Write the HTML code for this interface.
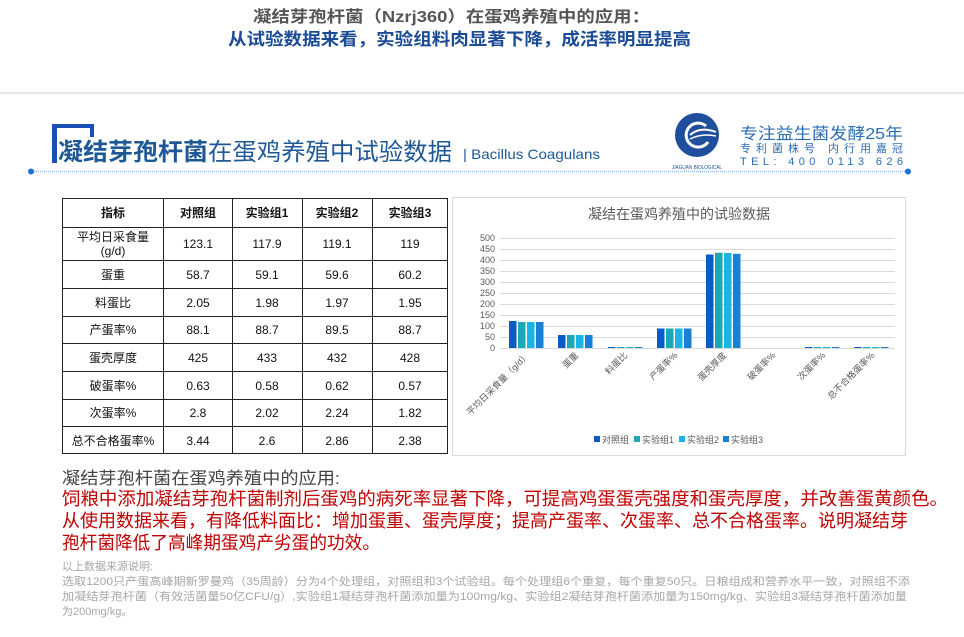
<!DOCTYPE html>
<html><head><meta charset="utf-8"><style>
html,body{margin:0;padding:0;background:#fff;}
svg{display:block;font-family:"Liberation Sans","Noto Sans CJK SC",sans-serif;}
</style></head><body>
<svg width="964" height="637" viewBox="0 0 964 637" xmlns="http://www.w3.org/2000/svg">
<rect width="964" height="637" fill="#fff"/>
<!-- top titles -->
<text x="253" y="22" font-size="16" font-weight="bold" fill="#555" textLength="397" lengthAdjust="spacingAndGlyphs">凝结芽孢杆菌（Nzrj360）在蛋鸡养殖中的应用：</text>
<text x="228" y="45" font-size="17" font-weight="bold" fill="#1b4b96" textLength="463" lengthAdjust="spacingAndGlyphs">从试验数据来看，实验组料肉显著下降，成活率明显提高</text>
<line x1="0" y1="93" x2="964" y2="93" stroke="#ddd" stroke-width="1.5"/>

<!-- section header -->
<path d="M52 124 H94 V137 H90 V128 H57 V163 H52 Z" fill="#1a4fb5"/>
<text x="58" y="160" font-size="24" font-weight="bold" fill="#1f5896" textLength="150" lengthAdjust="spacingAndGlyphs">凝结芽孢杆菌</text>
<text x="208" y="160" font-size="24" fill="#1f5896" textLength="244" lengthAdjust="spacingAndGlyphs">在蛋鸡养殖中试验数据</text>
<text x="463" y="159" font-size="14" fill="#1f5896" textLength="137" lengthAdjust="spacingAndGlyphs">| Bacillus Coagulans</text>
<line x1="32" y1="171.5" x2="908" y2="171.5" stroke="#8fbde8" stroke-width="1.5" stroke-dasharray="1 1"/>
<circle cx="31" cy="171.5" r="3" fill="#1a73d0"/>
<circle cx="908" cy="171.5" r="3" fill="#1a73d0"/>

<!-- logo -->
<circle cx="697" cy="135" r="22" fill="#1f4e9c"/>
<path d="M706 126 A12 12 0 1 0 708 142" fill="none" stroke="#fff" stroke-width="3"/>
<path d="M690 135 Q700 126 716 132" fill="none" stroke="#fff" stroke-width="2"/>
<path d="M690 139 Q702 133 716 136" fill="none" stroke="#fff" stroke-width="1.5"/>
<text x="672" y="169" font-size="5" fill="#1f4e9c" textLength="50" lengthAdjust="spacingAndGlyphs">JIAGUAN BIOLOGICAL</text>
<text x="740" y="139" font-size="16" fill="#2b6db4" textLength="163" lengthAdjust="spacingAndGlyphs">专注益生菌发酵25年</text>
<text x="740" y="152" font-size="11" fill="#2b6db4" textLength="163" lengthAdjust="spacing">专利菌株号 内行用嘉冠</text>
<text x="740" y="165" font-size="11" fill="#2b6db4" textLength="163" lengthAdjust="spacing">TEL: 400 0113 626</text>

<!-- table -->
<g stroke="#222" stroke-width="1" fill="none">
<rect x="62.5" y="198.5" width="385" height="255"/>
<line x1="62" y1="227.5" x2="448" y2="227.5"/>
<line x1="62" y1="260.5" x2="448" y2="260.5"/>
<line x1="62" y1="288.5" x2="448" y2="288.5"/>
<line x1="62" y1="316.5" x2="448" y2="316.5"/>
<line x1="62" y1="343.5" x2="448" y2="343.5"/>
<line x1="62" y1="371.5" x2="448" y2="371.5"/>
<line x1="62" y1="399.5" x2="448" y2="399.5"/>
<line x1="62" y1="426.5" x2="448" y2="426.5"/>
<line x1="163.5" y1="198" x2="163.5" y2="454"/>
<line x1="232.5" y1="198" x2="232.5" y2="454"/>
<line x1="302.5" y1="198" x2="302.5" y2="454"/>
<line x1="372.5" y1="198" x2="372.5" y2="454"/>
</g>
<g font-size="12" fill="#111" text-anchor="middle">
<g font-weight="bold">
<text x="113" y="217">指标</text><text x="198" y="217">对照组</text><text x="267" y="217">实验组1</text><text x="337" y="217">实验组2</text><text x="410" y="217">实验组3</text>
</g>
<text x="113" y="241">平均日采食量</text><text x="113" y="255">(g/d)</text>
<text x="198" y="248">123.1</text><text x="267" y="248">117.9</text><text x="337" y="248">119.1</text><text x="410" y="248">119</text>
<text x="113" y="279">蛋重</text><text x="198" y="279">58.7</text><text x="267" y="279">59.1</text><text x="337" y="279">59.6</text><text x="410" y="279">60.2</text>
<text x="113" y="307">料蛋比</text><text x="198" y="307">2.05</text><text x="267" y="307">1.98</text><text x="337" y="307">1.97</text><text x="410" y="307">1.95</text>
<text x="113" y="334">产蛋率%</text><text x="198" y="334">88.1</text><text x="267" y="334">88.7</text><text x="337" y="334">89.5</text><text x="410" y="334">88.7</text>
<text x="113" y="362">蛋壳厚度</text><text x="198" y="362">425</text><text x="267" y="362">433</text><text x="337" y="362">432</text><text x="410" y="362">428</text>
<text x="113" y="390">破蛋率%</text><text x="198" y="390">0.63</text><text x="267" y="390">0.58</text><text x="337" y="390">0.62</text><text x="410" y="390">0.57</text>
<text x="113" y="417">次蛋率%</text><text x="198" y="417">2.8</text><text x="267" y="417">2.02</text><text x="337" y="417">2.24</text><text x="410" y="417">1.82</text>
<text x="113" y="445">总不合格蛋率%</text><text x="198" y="445">3.44</text><text x="267" y="445">2.6</text><text x="337" y="445">2.86</text><text x="410" y="445">2.38</text>
</g>

<!-- chart -->
<rect x="452.5" y="197.5" width="453" height="258" fill="#fff" stroke="#d9d9d9"/>
<text x="679" y="219" font-size="14" fill="#595959" text-anchor="middle">凝结在蛋鸡养殖中的试验数据</text>
<g stroke="#d9d9d9" stroke-width="1">
<line x1="500" y1="238.5" x2="895" y2="238.5"/><line x1="500" y1="249.5" x2="895" y2="249.5"/>
<line x1="500" y1="260.5" x2="895" y2="260.5"/><line x1="500" y1="271.5" x2="895" y2="271.5"/>
<line x1="500" y1="282.5" x2="895" y2="282.5"/><line x1="500" y1="293.5" x2="895" y2="293.5"/>
<line x1="500" y1="304.5" x2="895" y2="304.5"/><line x1="500" y1="315.5" x2="895" y2="315.5"/>
<line x1="500" y1="326.5" x2="895" y2="326.5"/><line x1="500" y1="337.5" x2="895" y2="337.5"/>
<line x1="500" y1="348.5" x2="895" y2="348.5"/>
</g>
<g font-size="9" fill="#595959" text-anchor="end">
<text x="495" y="241">500</text><text x="495" y="252">450</text><text x="495" y="263">400</text><text x="495" y="274">350</text>
<text x="495" y="285">300</text><text x="495" y="296">250</text><text x="495" y="307">200</text><text x="495" y="318">150</text>
<text x="495" y="329">100</text><text x="495" y="340">50</text><text x="495" y="351">0</text>
</g>
<g>
<!-- cat0 -->
<rect x="509" y="321" width="7.5" height="27" fill="#0a5cc4"/><rect x="518" y="322" width="7.5" height="26" fill="#1aa8b4"/><rect x="527" y="322" width="7.5" height="26" fill="#1bb4e6"/><rect x="536" y="322" width="7.5" height="26" fill="#1a7fd6"/>
<!-- cat1 -->
<rect x="558" y="335" width="7.5" height="13" fill="#0a5cc4"/><rect x="567" y="335" width="7.5" height="13" fill="#1aa8b4"/><rect x="576" y="335" width="7.5" height="13" fill="#1bb4e6"/><rect x="585" y="335" width="7.5" height="13" fill="#1a7fd6"/>
<!-- cat2 -->
<rect x="608" y="347" width="7.5" height="1" fill="#0a5cc4"/><rect x="617" y="347" width="7.5" height="1" fill="#1aa8b4"/><rect x="626" y="347" width="7.5" height="1" fill="#1bb4e6"/><rect x="635" y="347" width="7.5" height="1" fill="#1a7fd6"/>
<!-- cat3 -->
<rect x="657" y="328.5" width="7.5" height="19.5" fill="#0a5cc4"/><rect x="666" y="328.5" width="7.5" height="19.5" fill="#1aa8b4"/><rect x="675" y="328.5" width="7.5" height="19.5" fill="#1bb4e6"/><rect x="684" y="328.5" width="7.5" height="19.5" fill="#1a7fd6"/>
<!-- cat4 -->
<rect x="706" y="254.5" width="7.5" height="93.5" fill="#0a5cc4"/><rect x="715" y="252.7" width="7.5" height="95.3" fill="#1aa8b4"/><rect x="724" y="253" width="7.5" height="95" fill="#1bb4e6"/><rect x="733" y="253.8" width="7.5" height="94.2" fill="#1a7fd6"/>
<!-- cat6 -->
<rect x="805" y="347" width="7.5" height="1" fill="#0a5cc4"/><rect x="814" y="347" width="7.5" height="1" fill="#1aa8b4"/><rect x="823" y="347" width="7.5" height="1" fill="#1bb4e6"/><rect x="832" y="347" width="7.5" height="1" fill="#1a7fd6"/>
<!-- cat7 -->
<rect x="854" y="347" width="7.5" height="1" fill="#0a5cc4"/><rect x="863" y="347" width="7.5" height="1" fill="#1aa8b4"/><rect x="872" y="347" width="7.5" height="1" fill="#1bb4e6"/><rect x="881" y="347" width="7.5" height="1" fill="#1a7fd6"/>
</g>
<g font-size="9" fill="#595959" text-anchor="end">
<text transform="translate(530,356) rotate(-45)">平均日采食量（g/d）</text>
<text transform="translate(579,356) rotate(-45)">蛋重</text>
<text transform="translate(628,356) rotate(-45)">料蛋比</text>
<text transform="translate(678,356) rotate(-45)">产蛋率%</text>
<text transform="translate(727,356) rotate(-45)">蛋壳厚度</text>
<text transform="translate(776,356) rotate(-45)">破蛋率%</text>
<text transform="translate(826,356) rotate(-45)">次蛋率%</text>
<text transform="translate(875,356) rotate(-45)">总不合格蛋率%</text>
</g>
<g font-size="9" fill="#595959">
<rect x="594" y="436" width="6" height="6" fill="#0a5cc4"/><text x="602" y="443">对照组</text>
<rect x="634" y="436" width="6" height="6" fill="#1aa8b4"/><text x="642" y="443">实验组1</text>
<rect x="679" y="436" width="6" height="6" fill="#1bb4e6"/><text x="687" y="443">实验组2</text>
<rect x="723" y="436" width="6" height="6" fill="#1a7fd6"/><text x="731" y="443">实验组3</text>
</g>

<!-- bottom text -->
<text x="62" y="484" font-size="17" fill="#444" textLength="278" lengthAdjust="spacingAndGlyphs">凝结芽孢杆菌在蛋鸡养殖中的应用:</text>
<g font-size="18" fill="#c00000">
<text x="62" y="505" textLength="886" lengthAdjust="spacingAndGlyphs">饲粮中添加凝结芽孢杆菌制剂后蛋鸡的病死率显著下降，可提高鸡蛋蛋壳强度和蛋壳厚度，并改善蛋黄颜色。</text>
<text x="62" y="527" textLength="846" lengthAdjust="spacingAndGlyphs">从使用数据来看，有降低料面比：增加蛋重、蛋壳厚度；提高产蛋率、次蛋率、总不合格蛋率。说明凝结芽</text>
<text x="62" y="549" textLength="318" lengthAdjust="spacingAndGlyphs">孢杆菌降低了高峰期蛋鸡产劣蛋的功效。</text>
</g>
<g font-size="11" fill="#a6a6a6">
<text x="62" y="570">以上数据来源说明:</text>
<text x="62" y="585" textLength="848" lengthAdjust="spacingAndGlyphs">选取1200只产蛋高峰期新罗曼鸡（35周龄）分为4个处理组，对照组和3个试验组。每个处理组6个重复，每个重复50只。日粮组成和营养水平一致，对照组不添</text>
<text x="62" y="600" textLength="845" lengthAdjust="spacingAndGlyphs">加凝结芽孢杆菌（有效活菌量50亿CFU/g）,实验组1凝结芽孢杆菌添加量为100mg/kg、实验组2凝结芽孢杆菌添加量为150mg/kg、实验组3凝结芽孢杆菌添加量</text>
<text x="62" y="615">为200mg/kg。</text>
</g>
</svg>
</body></html>
